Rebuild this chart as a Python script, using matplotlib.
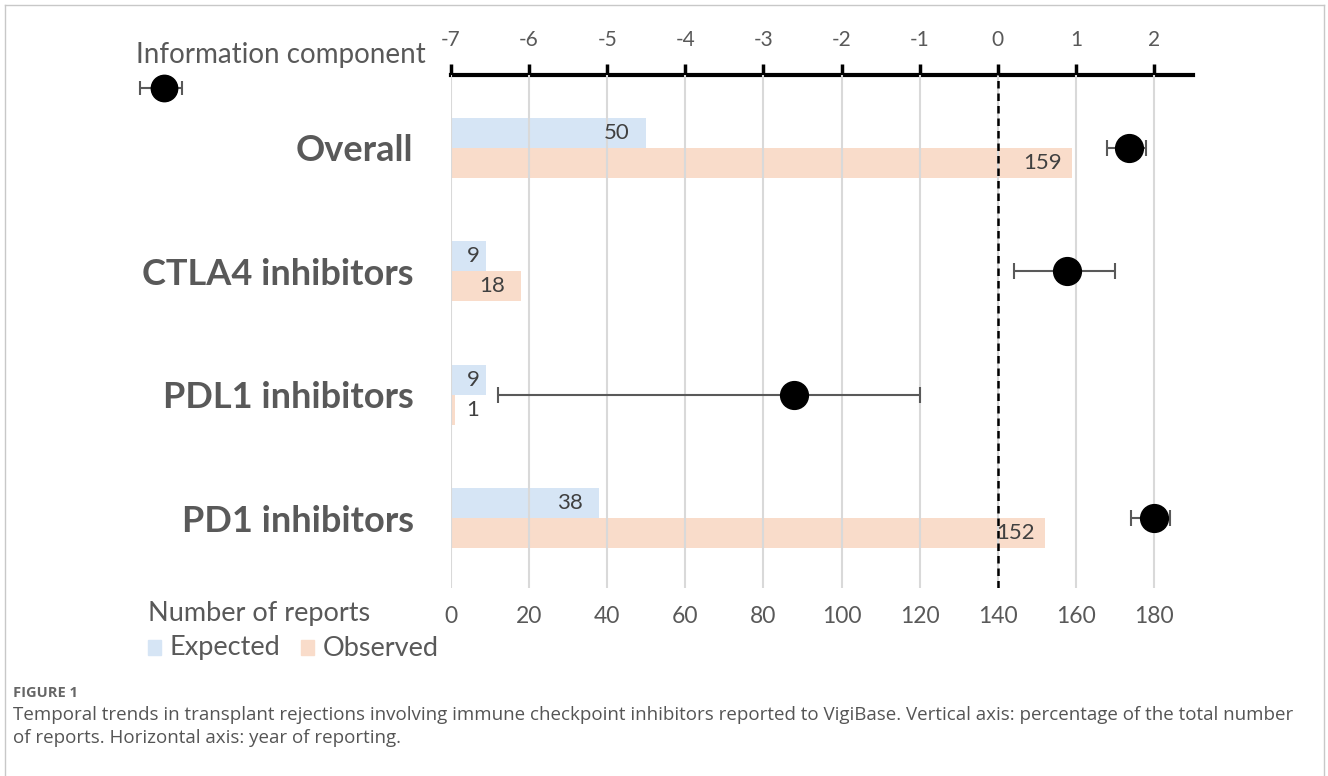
import numpy as np
import matplotlib.pyplot as plt
from matplotlib.lines import Line2D
from matplotlib.patches import Rectangle

plt.rcParams['font.family'] = ['Lato', 'DejaVu Sans']

# report counts and information component (IC) with 95% interval
groups = ["Overall", "CTLA4 inhibitors", "PDL1 inhibitors", "PD1 inhibitors"]
expected = [50, 9, 9, 38]
observed = [159, 18, 1, 152]
ic = [1.68, 0.89, -2.61, 2.00]
ic_low = [1.40, 0.21, -6.40, 1.71]
ic_high = [1.90, 1.50, -1.00, 2.20]

count_ticks = [0, 20, 40, 60, 80, 100, 120, 140, 160, 180]
ic_ticks = [-7, -6, -5, -4, -3, -2, -1, 0, 1, 2]

blue = "#d6e5f5"
peach = "#f9dcca"
grey = "#595959"

W, H = 1328, 776
fig = plt.figure(figsize=(W / 100, H / 100), dpi=100)

# helper: pixel box -> figure fraction
def box(x0, y0, x1, y1):
    return [x0 / W, 1 - y1 / H, (x1 - x0) / W, (y1 - y0) / H]

ax = fig.add_axes(box(451, 75, 1193, 588))
ax.set_xlim(0, 190)
ax.set_ylim(3.567, -0.59)

y = np.arange(len(groups))
bh = 0.243
ax.barh(y - bh / 2, expected, height=bh, color=blue, zorder=1)
ax.barh(y + bh / 2, observed, height=bh, color=peach, zorder=1)

for gx in count_ticks:
    ax.axvline(gx, color="#d9d9d9", lw=1.5, zorder=2)

# value labels near the end of each bar (kept clear of the axis for tiny bars)
for i in range(len(groups)):
    for v, yy in ((expected[i], y[i] - bh / 2), (observed[i], y[i] + bh / 2)):
        ax.text(max(v - 7.5, 5.6), yy, str(v), ha="center", va="center",
                fontsize=16, color="#404040", zorder=4)

# IC = 0 reference line
to_count = lambda v: (np.asarray(v) + 7) * 20
to_ic = lambda c: np.asarray(c) / 20 - 7
ax.axvline(to_count(0), color="black", lw=1.8, ls=(0, (3, 2)), zorder=3)

xc = to_count(ic)
err = [xc - to_count(ic_low), to_count(ic_high) - xc]
ax.errorbar(xc, y, xerr=err, fmt="none", ecolor=grey, elinewidth=1.5,
            capsize=6, capthick=1.5, zorder=5)
ax.plot(xc, y, "o", color="black", ms=20, zorder=6)

# category labels
ax.set_yticks(y)
ax.set_yticklabels(groups, fontsize=26, fontweight="bold", color=grey)
ax.tick_params(axis="y", length=0, pad=27)

# bottom count axis
ax.set_xticks(count_ticks)
ax.set_xticklabels([str(t) for t in count_ticks], fontsize=16.5, color=grey)
ax.tick_params(axis="x", length=0, pad=13)
for s in ["left", "right", "bottom", "top"]:
    ax.spines[s].set_visible(False)

# top IC axis
top = ax.secondary_xaxis("top", functions=(to_ic, to_count))
top.set_xticks(ic_ticks)
top.set_xticklabels([str(t) for t in ic_ticks], fontsize=15, color=grey)
top.tick_params(axis="x", direction="out", length=8, width=2.5, color="black", pad=10)
top.spines["top"].set_linewidth(3)
top.spines["top"].set_color("black")

# labels, legend and caption on a full-figure overlay
ov = fig.add_axes([0, 0, 1, 1])
ov.set_xlim(0, W)
ov.set_ylim(H, 0)
ov.axis("off")

ov.text(426, 55, "Information component", ha="right", va="center", fontsize=20, color=grey)
ov.errorbar([164], [88], xerr=[[24], [18]], fmt="none", ecolor=grey, elinewidth=1.5,
            capsize=5, capthick=1.5)
ov.plot([164], [88], "o", color="black", ms=19)

ov.text(148, 613, "Number of reports", ha="left", va="center", fontsize=19.5, color=grey)
ov.add_patch(Rectangle((148, 640), 13, 15, color=blue))
ov.text(170, 648, "Expected", ha="left", va="center", fontsize=19.5, color=grey)
ov.add_patch(Rectangle((301, 640), 13, 15, color=peach))
ov.text(323, 648, "Observed", ha="left", va="center", fontsize=19.5, color=grey)

cap_font = ['Open Sans', 'DejaVu Sans']
ov.text(13, 693, "FIGURE 1", ha="left", va="center", fontsize=10.5, fontweight="bold",
        color="#666666", family=cap_font)
ov.text(13, 715, "Temporal trends in transplant rejections involving immune checkpoint inhibitors "
        "reported to VigiBase. Vertical axis: percentage of the total number",
        ha="left", va="center", fontsize=13.5, color="#555555", family=cap_font)
ov.text(13, 738, "of reports. Horizontal axis: year of reporting.",
        ha="left", va="center", fontsize=13.5, color="#555555", family=cap_font)

# frame lines
for xs, ys in (([4.5, 4.5], [4.5, H]), ([1323.5, 1323.5], [4.5, H]), ([4.5, 1323.5], [4.5, 4.5])):
    ov.add_line(Line2D(xs, ys, color="#c8c8c8", lw=1))

fig.savefig("out.png", dpi=100)
